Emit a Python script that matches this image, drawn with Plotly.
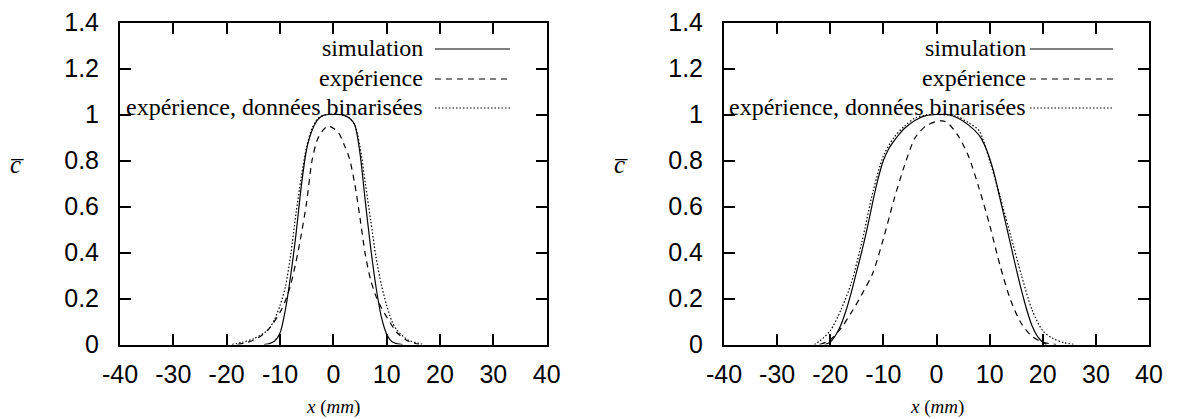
import plotly.graph_objects as go

# ---- Profil étroit (panneau de gauche) ----
x_sim_a = [-13, -12, -11, -10, -9, -8, -7, -6, -5, -4, -3, -2, -1, 0, 1, 2, 3, 4, 5, 6, 7, 8, 9, 10, 11, 12, 13]
c_sim_a = [0.0, 0.004, 0.015, 0.05, 0.15, 0.30, 0.48, 0.69, 0.85, 0.93, 0.975, 0.995, 1.0, 1.0, 1.0, 0.996, 0.985,
           0.955, 0.83, 0.62, 0.42, 0.25, 0.12, 0.045, 0.012, 0.003, 0.0]

x_exp_a = [-18, -16, -14, -12, -10, -9, -8, -7, -6, -5, -4, -3, -2, -1, 0, 1, 2, 3, 4, 5, 6, 7, 8, 9, 10, 12, 14, 16]
c_exp_a = [0.0, 0.01, 0.03, 0.07, 0.14, 0.19, 0.26, 0.36, 0.48, 0.62, 0.80, 0.89, 0.93, 0.95, 0.94, 0.92, 0.87, 0.81,
           0.70, 0.55, 0.39, 0.28, 0.21, 0.16, 0.12, 0.05, 0.015, 0.0]

x_bin_a = [-19, -17, -15, -13, -12, -11, -10, -9, -8, -7, -6, -5, -4, -3, -2, -1, 0, 1, 2, 3, 4, 5, 6, 7, 8, 9, 10,
           11, 12, 14, 16, 17]
c_bin_a = [0.0, 0.01, 0.025, 0.05, 0.07, 0.11, 0.17, 0.25, 0.39, 0.57, 0.73, 0.86, 0.94, 0.98, 0.995, 1.0, 1.0, 1.0,
           0.995, 0.985, 0.955, 0.86, 0.70, 0.54, 0.38, 0.26, 0.17, 0.10, 0.06, 0.02, 0.005, 0.0]

# ---- Profil large (panneau de droite) ----
x_sim_b = [-21, -20, -19, -18, -17, -16, -15, -14, -13, -12, -11, -10, -9, -8, -7, -6, -4, -2, 0, 2, 4, 6, 8, 9,
           10, 11, 12, 13, 14, 15, 16, 17, 18, 19, 20, 20.7]
c_sim_b = [0.0, 0.01, 0.04, 0.085, 0.15, 0.23, 0.32, 0.41, 0.51, 0.62, 0.72, 0.80, 0.85, 0.885, 0.915, 0.94, 0.975,
           0.995, 1.0, 1.0, 0.985, 0.955, 0.91, 0.87, 0.81, 0.73, 0.63, 0.53, 0.43, 0.33, 0.235, 0.15, 0.08, 0.035,
           0.01, 0.0]

x_exp_b = [-22, -20, -18, -16, -14, -12, -10, -8, -6, -4, -2, 0, 1, 2, 4, 6, 8, 10, 12, 14, 16, 18, 20, 22.5]
c_exp_b = [0.0, 0.02, 0.07, 0.14, 0.22, 0.31, 0.46, 0.63, 0.78, 0.90, 0.95, 0.97, 0.972, 0.965, 0.91, 0.82, 0.68,
           0.52, 0.34, 0.19, 0.09, 0.035, 0.01, 0.0]

x_bin_b = [-23, -22, -20, -18, -16, -14, -12, -10, -8, -6, -4, -2, 0, 2, 4, 6, 8, 10, 12, 14, 16, 18, 20, 22, 24, 26]
c_bin_b = [0.0, 0.015, 0.06, 0.15, 0.27, 0.45, 0.66, 0.82, 0.90, 0.95, 0.985, 0.998, 1.0, 0.998, 0.99, 0.965, 0.93,
           0.80, 0.64, 0.47, 0.30, 0.15, 0.06, 0.025, 0.008, 0.0]

# ---- Axes ----
x_ticks = [-40, -30, -20, -10, 0, 10, 20, 30, 40]
x_tick_text = ["-40", "-30", "-20", "-10", "0", "10", "20", "30", "40"]
y_ticks = [0, 0.2, 0.4, 0.6, 0.8, 1, 1.2, 1.4]
y_tick_text = ["0", "0.2", "0.4", "0.6", "0.8", "1", "1.2", "1.4"]

legend_labels = ["simulation", "expérience", "expérience, données binarisées"]

W, H = 1178, 419
BLACK = "#000000"
DASH = "6px,5px"
DOT = "1.5px,2px"

fig = go.Figure()

panels = [
    ("x", "y", x_sim_a, c_sim_a, x_exp_a, c_exp_a, x_bin_a, c_bin_a),
    ("x2", "y2", x_sim_b, c_sim_b, x_exp_b, c_exp_b, x_bin_b, c_bin_b),
]
for xa, ya, xs, cs, xe, ce, xb, cb in panels:
    fig.add_trace(go.Scatter(x=xs, y=cs, xaxis=xa, yaxis=ya, mode="lines", name=legend_labels[0],
                             line=dict(color=BLACK, width=1.2, shape="spline", smoothing=0.8)))
    fig.add_trace(go.Scatter(x=xe, y=ce, xaxis=xa, yaxis=ya, mode="lines", name=legend_labels[1],
                             line=dict(color=BLACK, width=1.2, dash=DASH, shape="spline", smoothing=0.8)))
    fig.add_trace(go.Scatter(x=xb, y=cb, xaxis=xa, yaxis=ya, mode="lines", name=legend_labels[2],
                             line=dict(color=BLACK, width=1.2, dash=DOT, shape="spline", smoothing=0.8)))

y_top, y_bot = 22.5, 344.5
y_dom = [(H - y_bot) / H, (H - y_top) / H]
x_doms = [[120 / W, 546.7 / W], [724 / W, 1149 / W]]

axis_common = dict(showline=True, linewidth=2, linecolor=BLACK, mirror="ticks", ticks="inside",
                   ticklen=11, tickwidth=1.5, tickcolor=BLACK, showgrid=False, zeroline=False,
                   automargin=False,
                   tickfont=dict(family="Liberation Sans, Arial, sans-serif", size=25, color=BLACK))

fig.update_layout(
    template="none",
    width=W, height=H, margin=dict(l=0, r=0, t=0, b=0, autoexpand=False),
    paper_bgcolor="white", plot_bgcolor="white", showlegend=False,
    xaxis=dict(domain=x_doms[0], range=[-40, 40], tickvals=x_ticks, ticktext=x_tick_text, anchor="y",
               ticklabelstandoff=6, **axis_common),
    yaxis=dict(domain=y_dom, range=[0, 1.4], tickvals=y_ticks, ticktext=y_tick_text, anchor="x",
               ticklabelstandoff=14, **axis_common),
    xaxis2=dict(domain=x_doms[1], range=[-40, 40], tickvals=x_ticks, ticktext=x_tick_text, anchor="y2",
                ticklabelstandoff=6, **axis_common),
    yaxis2=dict(domain=y_dom, range=[0, 1.4], tickvals=y_ticks, ticktext=y_tick_text, anchor="x2",
                ticklabelstandoff=14, **axis_common),
)

SERIF = "Liberation Serif, Times New Roman, serif"

# Titres des axes
for dom, ylab_x in zip(x_doms, [17, 621]):
    xc = (dom[0] + dom[1]) / 2
    fig.add_annotation(xref="paper", yref="paper", x=xc, y=(H - 407) / H, xanchor="center", yanchor="middle",
                       text="<i>x</i> (<i>mm</i>)", showarrow=False,
                       font=dict(family=SERIF, size=19, color=BLACK))
    fig.add_annotation(xref="paper", yref="paper", x=ylab_x / W, y=(H - 164) / H, xanchor="center",
                       yanchor="middle", text="<i>c\u0305</i>", showarrow=False,
                       font=dict(family=SERIF, size=25, color=BLACK))

# Légendes : texte aligné à droite, échantillon de trait à sa droite
rows_y = [48, 78, 107]
dashes = ["solid", DASH, DOT]
legend_geo = [(425, 435, 510), (1028, 1030, 1113)]
for text_end, s0, s1 in legend_geo:
    for lab, ry, dsh in zip(legend_labels, rows_y, dashes):
        fig.add_annotation(xref="paper", yref="paper", x=text_end / W, y=(H - ry) / H, xanchor="right",
                           yanchor="middle", text=lab, showarrow=False,
                           font=dict(family=SERIF, size=24, color=BLACK))
        fig.add_shape(type="line", xref="paper", yref="paper", x0=s0 / W, x1=s1 / W,
                      y0=(H - ry - 1) / H, y1=(H - ry - 1) / H, line=dict(color=BLACK, width=1.2, dash=dsh))

fig.write_html("out.html")
